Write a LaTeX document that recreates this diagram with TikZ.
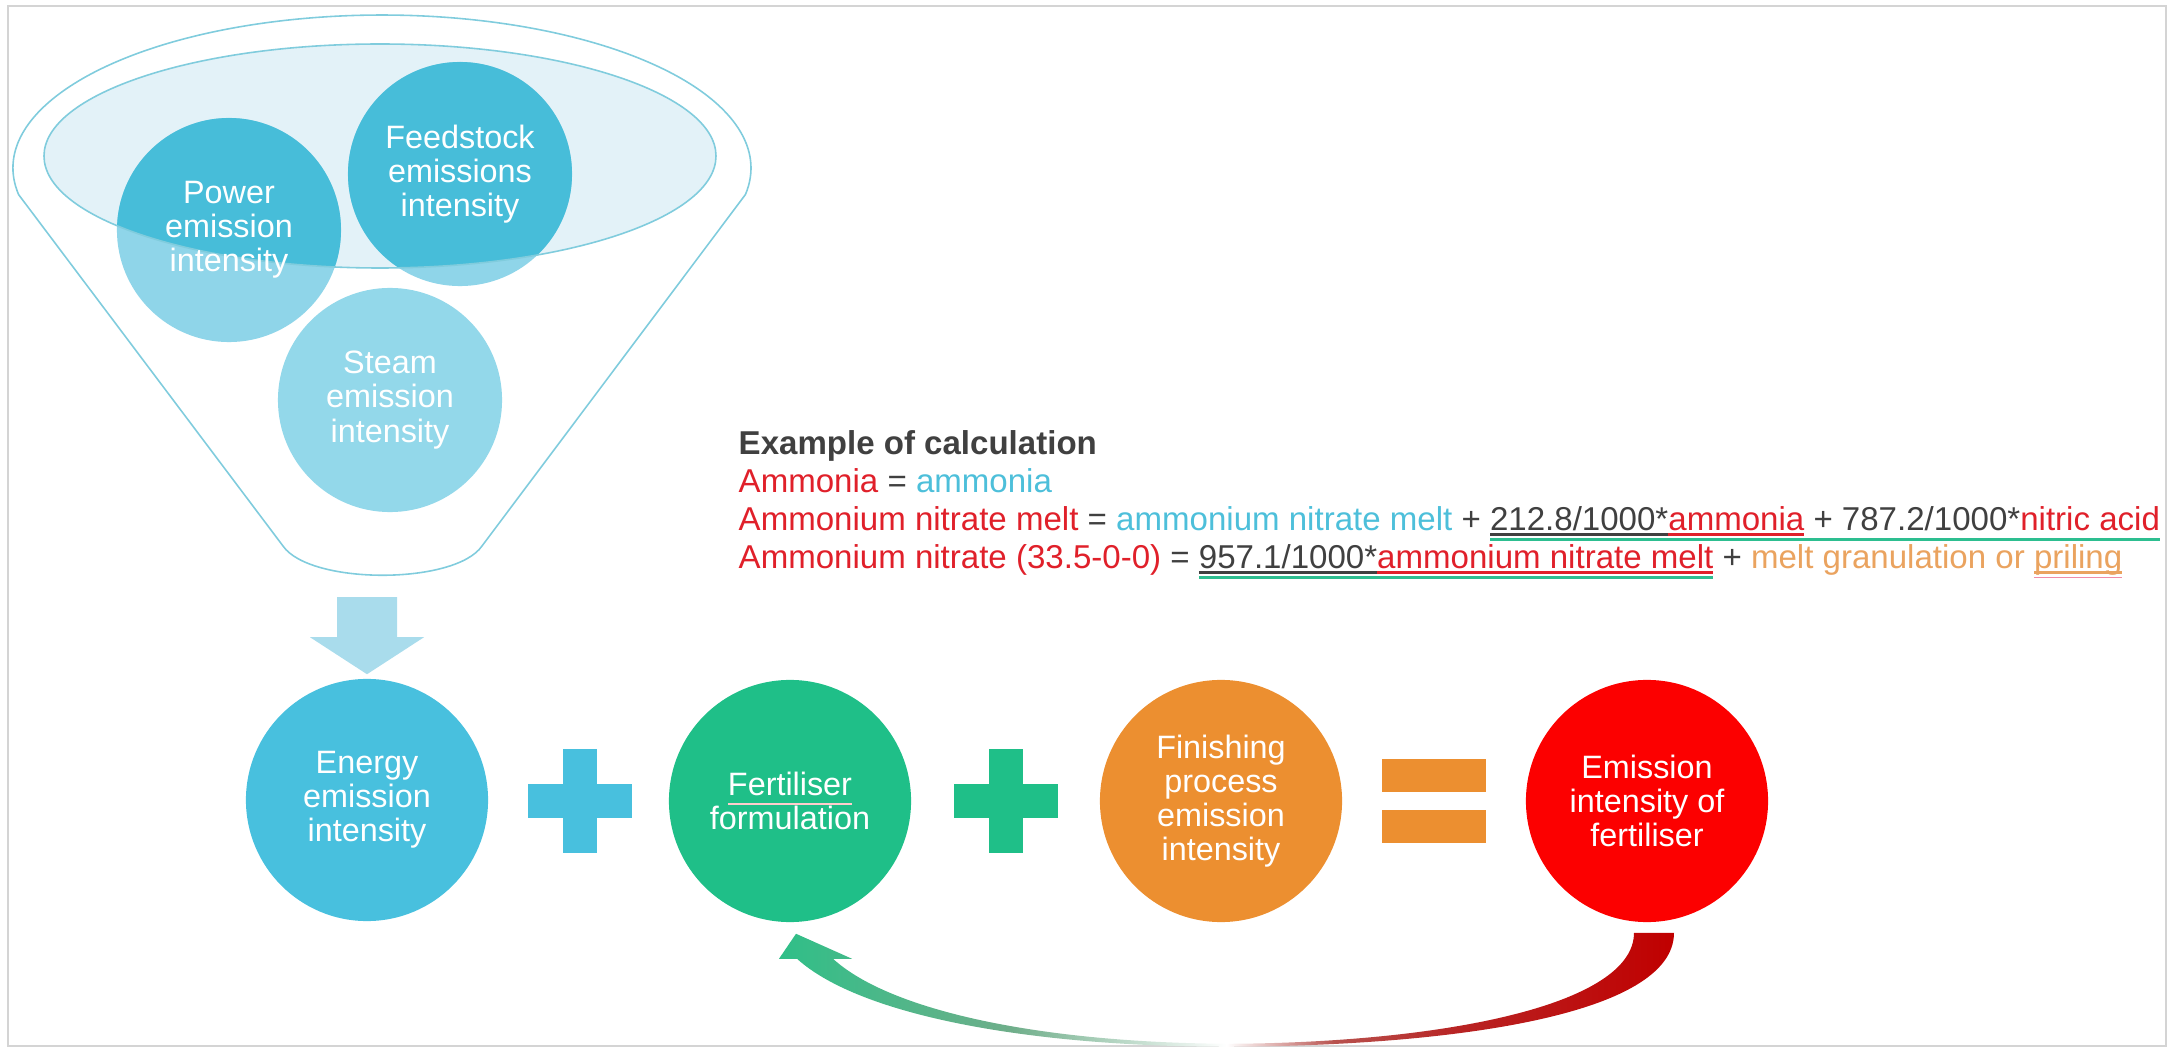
\documentclass[tikz,border=0pt]{standalone}
\usepackage{fontspec}
\setmainfont{Liberation Sans}
\usetikzlibrary{calc}

\definecolor{energyblue}{HTML}{48C0DE}
\definecolor{fertgreen}{HTML}{1FBF88}
\definecolor{finorange}{HTML}{EC8F30}
\definecolor{emisred}{HTML}{FC0000}
\definecolor{funlight}{HTML}{8FD5E9}
\definecolor{fundark}{HTML}{47BDD9}
\definecolor{steamblue}{HTML}{93D8EA}
\definecolor{funline}{HTML}{80CCDD}
\definecolor{ellfill}{HTML}{E3F2F8}
\definecolor{arrowblue}{HTML}{A9DCEC}
\definecolor{framegray}{HTML}{D4D4D4}
\definecolor{tgray}{HTML}{404040}
\definecolor{tred}{HTML}{E0202A}
\definecolor{tcyan}{HTML}{4DBFDA}
\definecolor{torange}{HTML}{EAA35F}
\definecolor{ulgreen}{HTML}{2DBE90}
\definecolor{spellpink}{HTML}{F08CA8}
\definecolor{fbgreen}{HTML}{2FBF88}
\definecolor{fbgreengray}{HTML}{6FAE8A}
\definecolor{fbredgray}{HTML}{B8524E}
\definecolor{fbred}{HTML}{B82323}
\definecolor{fbdred}{HTML}{C00000}

\newcommand{\circfont}{\fontsize{9.2}{9.7}\selectfont}
\newcommand{\calcfont}{\fontsize{9.4}{10.8}\selectfont}
% text underline in the current colour
\newcommand{\tul}[1]{\setbox0\hbox{#1}\rlap{\rule[-0.045cm]{\wd0}{0.022cm}}\box0{}}
% green line under a whole term
\newcommand{\gul}[1]{\setbox2\hbox{#1}\rlap{\textcolor{ulgreen}{\rule[-0.1cm]{\wd2}{0.03cm}}}\box2{}}
% spell check mark
\newcommand{\spellmark}[2]{\setbox4\hbox{#2}\rlap{\textcolor{#1}{\rule[-0.09cm]{\wd4}{0.012cm}}}\box4{}}

\pgfdeclarehorizontalshading{fbshade}{100bp}{color(0bp)=(fbgreen); color(25bp)=(fbgreen);
  color(38bp)=(fbgreengray); color(50bp)=(white); color(56bp)=(fbredgray);
  color(63bp)=(fbred); color(75bp)=(fbdred); color(100bp)=(fbdred)}

\tikzset{
  bigcirc/.style={circle, minimum size=2.42cm, inner sep=0pt, text=white, align=center, font=\circfont},
  funcirc/.style={circle, minimum size=2.24cm, inner sep=0pt, fill=funlight},
  circlbl/.style={text=white, align=center, font=\circfont, inner sep=0pt},
  calcline/.style={anchor=base west, inner sep=0pt, font=\calcfont, text=tgray},
  sign/.style={fill=#1}
}

\begin{document}
\begin{tikzpicture}[x=0.01cm, y=-0.01cm]
\useasboundingbox (0,0) rectangle (2172,1049);
\draw [framegray, line width=0.6pt] (8,6) rectangle (2166,1046);

% funnel
\draw [funline, line width=0.45pt, fill=white] (18.6,194.6) arc [start angle=170, end angle=370, x radius=369, y radius=153]
  -- (482,546) .. controls (455,585) and (310,585) .. (283,546) -- cycle;
\fill [ellfill] (380,156) ellipse [x radius=336, y radius=112];
\node [funcirc] (pwr) at (229,230) {};
\node [funcirc] (feed) at (460,174) {};
\node [funcirc, fill=steamblue] (steam) at (390,400) {};
\begin{scope}
\clip (380,156) ellipse [x radius=336, y radius=112];
\fill [fundark] (pwr.center) circle [radius=112];
\fill [fundark] (feed.center) circle [radius=112];
\end{scope}
\draw [funline, line width=0.45pt] (380,156) ellipse [x radius=336, y radius=112];
\node [circlbl] (pwrlbl) at (pwr) {Power\\emission\\intensity};
\node [circlbl] (feedlbl) at (feed) {Feedstock\\emissions\\intensity};
\node [circlbl] (steamlbl) at (steam) {Steam\\emission\\intensity};

% example of calculation
\node [calcline] (calchead) at (738,455) {\textbf{Example of calculation}};
\node [calcline] (calcA) at (738,493) {{\color{tred}Ammonia} = {\color{tcyan}ammonia}};
\node [calcline] (calcB) at (738,531) {{\color{tred}Ammonium nitrate melt} = {\color{tcyan}ammonium nitrate melt} + \gul{\tul{212.8/1000*}{\color{tred}\tul{ammonia}} + 787.2/1000*{\color{tred}nitric acid}}};
\node [calcline] (calcC) at (738,569) {{\color{tred}Ammonium nitrate (33.5-0-0)} = \gul{\tul{957.1/1000*}{\color{tred}\tul{ammonium nitrate melt}}} + {\color{torange}melt granulation or \spellmark{spellpink}{\tul{priling}}}};

% sum
\node [bigcirc, fill=energyblue] (energy) at (367,800) {Energy\\emission\\intensity};
\node [bigcirc, fill=fertgreen] (fert) at (790,801) {\spellmark{white!80!red}{Fertiliser}\\formulation};
\node [bigcirc, fill=finorange] (finish) at (1221,801) {Finishing\\process\\emission\\intensity};
\node [bigcirc, fill=emisred] (emis) at (1647,801) {Emission\\intensity of\\fertiliser};

\fill [arrowblue] ($(energy.north)+(0,-4)$) -- ++(-57,-37) -- ++(27,0) -- ++(0,-40) -- ++(60,0) -- ++(0,40) -- ++(27,0) -- cycle;

\fill [sign=energyblue] (528,784) rectangle (632,818);
\fill [sign=energyblue] (563,749) rectangle (597,853);
\fill [sign=fertgreen] (954,784) rectangle (1058,818);
\fill [sign=fertgreen] (989,749) rectangle (1023,853);
\fill [sign=finorange] (1382,759) rectangle (1486,792);
\fill [sign=finorange] (1382,810) rectangle (1486,843);

% feedback arrow
\coordinate (fb) at ($(emis.south)+(-418,124)$);
\coordinate (ft) at ($(fert.south)+(6,11)$);
\shade [shading=fbshade] ($(emis.south)+(27,10)$) .. controls +(0,83) and +(221,-1) .. (fb)
  .. controls +(-199,0) and +(63,57) .. ($(ft)+(1,25)$)
  -- ($(ft)+(-17,25)$) -- (ft) -- ($(ft)+(56,25)$) -- ($(ft)+(37,25)$)
  .. controls +(57,52) and +(-189,-1) .. ($(fb)+(0,-3)$)
  .. controls +(211,-1) and +(0,73) .. ($(emis.south)+(-13,10)$) -- cycle;
\end{tikzpicture}
\end{document}
